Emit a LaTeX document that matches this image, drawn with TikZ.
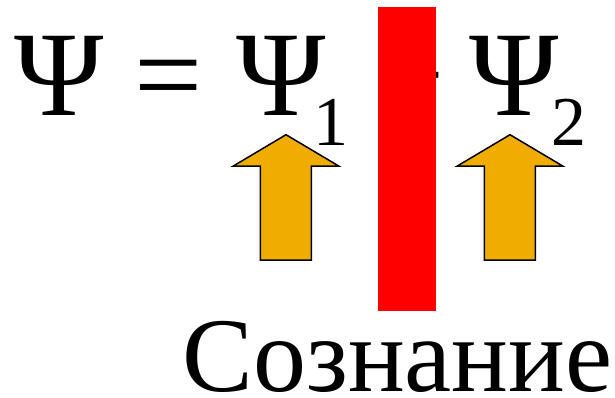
\documentclass[tikz,border=0pt]{standalone}
\usepackage{fontspec}
\setmainfont{Liberation Serif}
\definecolor{arrowfill}{RGB}{240,172,0}
\begin{document}
\begin{tikzpicture}[x=1pt,y=-1pt,
  big/.style={inner sep=0pt,outer sep=0pt,anchor=base,font=\fontsize{121}{121}\selectfont},
  sub/.style={inner sep=0pt,outer sep=0pt,anchor=base,font=\fontsize{70}{70}\selectfont},
  word/.style={inner sep=0pt,outer sep=0pt,anchor=base,font=\fontsize{106}{106}\selectfont},
  uparrow/.style={draw=black,line width=1.5pt,fill=arrowfill,line join=miter},
  bar/.style={fill=red,draw=none}]
\useasboundingbox (0,0) rectangle (615,397);
\node[big] (psiA) at (59,115) {Ψ};
\node[big] (eq) at (169,115) {=};
\node[big] (psiB) at (281,115) {Ψ};
\node[sub] (s1) at (331,145) {1};
\node[big] (plus) at (411,115) {+};
\node[big] (psiC) at (513.7,115) {Ψ};
\node[sub] (s2) at (568.5,145) {2};
\node[word] (word) at (397.5,391.7) {Сознание};
% red bar
\path[bar] (377.5,7) rectangle (436,310.5);
% arrows
\draw[uparrow] (286,134.7) -- (338.7,166) -- (311.3,166) -- (311.3,260) -- (260.3,260) -- (260.3,166) -- (233.3,166) -- cycle;
\draw[uparrow] (510,134.7) -- (562.7,166) -- (535.3,166) -- (535.3,260) -- (484.3,260) -- (484.3,166) -- (457.3,166) -- cycle;
\end{tikzpicture}
\end{document}
